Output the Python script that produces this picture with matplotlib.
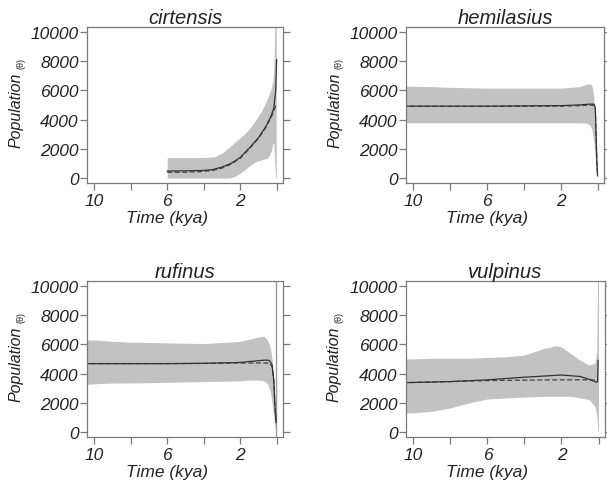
import numpy as np
import matplotlib
matplotlib.use('Agg')
from matplotlib import pyplot as plt

plt.rcParams['font.family'] = ['Liberation Sans', 'DejaVu Sans']

names = ['cirtensis', 'hemilasius', 'rufinus', 'vulpinus']

# confidence band (time in kya, upper, lower)
bandTime = {
    'cirtensis': [6.0, 5.0, 4.0, 3.4, 3.0, 2.6, 2.3, 2.0, 1.6, 1.2, 0.8, 0.5, 0.3, 0.2, 0.15, 0.1, 0.05, 0.02],
    'hemilasius': [10.6, 9, 8, 6, 4, 2, 1.0, 0.6, 0.4, 0.3, 0.2, 0.1, 0.05, 0.0],
    'rufinus': [10.6, 10, 9, 8, 6, 4, 2, 1.5, 1.0, 0.7, 0.5, 0.35, 0.25, 0.15, 0.08, 0.05, 0.02],
    'vulpinus': [10.6, 10, 9, 8, 7, 6, 5, 4, 3, 2.3, 2, 1.5, 1, 0.5, 0.2, 0.1, 0.05, 0.02, 0.0],
}
bandUpper = {
    'cirtensis': [1400, 1400, 1400, 1450, 1700, 2100, 2450, 2750, 3200, 3850, 4650, 5450, 6100, 6700, 7500, 10500, 10500, 10500],
    'hemilasius': [6300, 6250, 6200, 6150, 6150, 6150, 6250, 6400, 6450, 6300, 5500, 3000, 1000, 200],
    'rufinus': [6300, 6300, 6200, 6150, 6100, 6050, 6200, 6350, 6500, 6550, 6300, 5800, 5000, 3500, 1500, 600, 300],
    'vulpinus': [5000, 5000, 5050, 5050, 5050, 5100, 5150, 5260, 5700, 5900, 5820, 5370, 4920, 4580, 4700, 5500, 10500, 10500, 10500],
}
bandLower = {
    'cirtensis': [0, 0, 0, 0, 0, 0, 100, 330, 700, 1100, 1250, 1350, 1800, 2400, 2300, 800, 0, 0],
    'hemilasius': [3780, 3780, 3780, 3780, 3780, 3780, 3780, 3750, 3600, 3300, 2500, 1000, 300, 100],
    'rufinus': [3250, 3300, 3350, 3350, 3400, 3450, 3500, 3550, 3550, 3500, 3300, 2800, 2000, 1000, 300, 0, 0],
    'vulpinus': [1300, 1310, 1420, 1650, 1990, 2260, 2330, 2390, 2440, 2440, 2440, 2440, 2330, 2210, 1760, 1200, 400, 0, 0],
}

# median (solid) and mean (dashed) curves
lineTime = {
    'cirtensis': [6, 5, 4, 3.5, 3, 2.5, 2, 1.5, 1, 0.6, 0.3, 0.15, 0.05, 0],
    'hemilasius': [10.6, 6, 2, 1, 0.5, 0.2, 0.12, 0.08, 0.04, 0.0],
    'rufinus': [10.6, 8, 6, 4, 2, 1.0, 0.6, 0.4, 0.25, 0.15, 0.1, 0.03],
    'vulpinus': [10.6, 10, 8, 6, 4, 2, 1, 0.5, 0.2, 0.1, 0.05, 0.02],
}
solidValues = {
    'cirtensis': [480, 490, 520, 580, 750, 1000, 1400, 2050, 2750, 3500, 4250, 4800, 6000, 8100],
    'hemilasius': [4920, 4920, 4950, 5000, 5050, 5050, 4800, 3000, 1200, 150],
    'rufinus': [4680, 4680, 4680, 4700, 4760, 4880, 4920, 4900, 4600, 3500, 2000, 650],
    'vulpinus': [3380, 3390, 3450, 3570, 3750, 3900, 3800, 3600, 3450, 3400, 3500, 4900],
}
dashedValues = {
    'cirtensis': [390, 400, 450, 520, 680, 950, 1350, 2000, 2700, 3450, 4150, 4600, 4950, 5100],
    'hemilasius': [4900, 4900, 4920, 4950, 4980, 4980, 4700, 2900, 1100, 150],
    'rufinus': [4680, 4680, 4680, 4690, 4720, 4720, 4720, 4720, 4500, 3400, 1900, 650],
    'vulpinus': [3380, 3390, 3450, 3520, 3550, 3570, 3570, 3570, 3560, 3500, 3450, 3450],
}

# thin vertical artefact line (rufinus only)
spikeTime = {'rufinus': 0.05}

xTicks = [10, 8, 6, 4, 2, 0]
xTickLabels = ['10', '', '6', '', '2', '']
yTicks = [0, 2000, 4000, 6000, 8000, 10000]

# axes boxes in pixels: left, top, right, bottom
boxes = [(87, 28, 283, 184), (406, 28, 604, 184), (87, 282, 283, 438), (406, 282, 605, 438)]

W, H = 607, 481
fig = plt.figure(figsize=(W / 100, H / 100), dpi=100)

spineColor = '#7a7a7a'
bandColor = '#c2c2c2'

for name, (l, t, r, b) in zip(names, boxes):
    ax = fig.add_axes([l / W, (H - b) / H, (r - l) / W, (b - t) / H])
    ax.fill_between(bandTime[name], bandLower[name], bandUpper[name], color=bandColor, lw=0)
    if name in spikeTime:
        ax.axvline(spikeTime[name], color='#9a9a9a', lw=1.0)
    ax.plot(lineTime[name], dashedValues[name], color='#444444', lw=0.9, ls=(0, (4, 2)))
    ax.plot(lineTime[name], solidValues[name], color='#333333', lw=0.9)
    ax.set_xlim(10.4, -0.35)
    ax.set_ylim(-340, 10330)
    ax.set_xticks(xTicks)
    ax.set_xticklabels(xTickLabels, fontsize=12.5, style='italic', color='#222222')
    ax.set_yticks(yTicks)
    ax.set_yticklabels([str(v) for v in yTicks], fontsize=12.5, style='italic', color='#222222')
    ax.tick_params(axis='both', direction='out', length=5, width=0.9, color=spineColor)
    ax.tick_params(axis='y', right=True, pad=1)
    ax.tick_params(axis='x', pad=2)
    for s in ax.spines.values():
        s.set_color(spineColor)
        s.set_linewidth(0.9)
    ax.set_title(name, fontsize=14.5, style='italic', pad=2, color='#222222')
    ax.text(6, -0.22, 'Time (kya)', transform=ax.get_xaxis_transform(), ha='center', va='center',
            fontsize=12.5, style='italic', color='#222222')
    ax.text(-0.36, 0.47, 'Population', transform=ax.transAxes, rotation=90, ha='center', va='center',
            fontsize=11.5, style='italic', color='#222222')
    ax.text(-0.338, 0.775, '(θ)', transform=ax.transAxes, rotation=90, ha='center', va='center',
            fontsize=6.5, color='#222222')

fig.savefig('out.png', dpi=100)
